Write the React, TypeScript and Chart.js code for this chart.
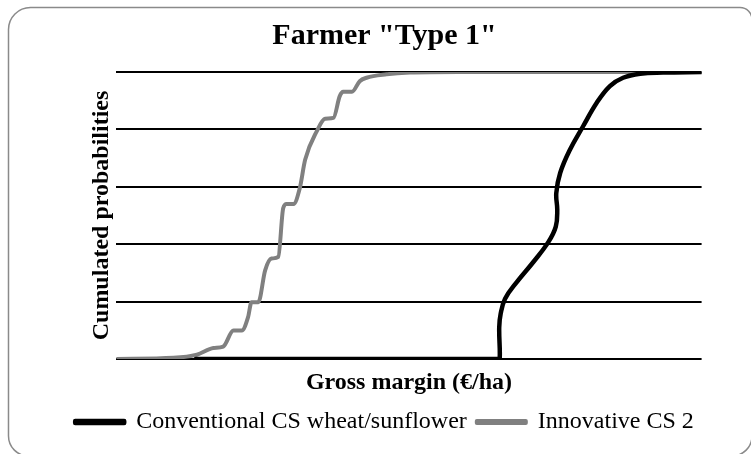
import React, { useEffect, useRef } from "react";
import { Chart, registerables } from "chart.js";

Chart.register(...registerables);

const chartTitle = 'Farmer "Type 1"';
const xAxisTitle = "Gross margin (€/ha)";
const yAxisTitle = "Cumulated probabilities";

const seriesNames = ["Conventional CS wheat/sunflower", "Innovative CS 2"];

// Conventional CS wheat/sunflower: gross margin (€/ha) and cumulated probability
const conventionalX = [163, 782, 786, 785, 788, 797, 821, 855, 886, 901, 904, 902, 910, 930, 957, 985, 1012, 1039, 1074, 1121, 1200];
const conventionalP = [0, 0, 0, 0.11, 0.158, 0.21, 0.268, 0.338, 0.408, 0.461, 0.519, 0.578, 0.648, 0.729, 0.811, 0.893, 0.951, 0.98, 0.994, 0.998, 1];

// Innovative CS 2
const innovativeX = [0, 117, 165, 199, 219, 240, 257, 270, 277, 291, 305, 318, 332, 342, 349, 363, 376, 387, 411, 428, 445, 458, 465, 483, 499, 513, 554, 602, 700, 1200];
const innovativeP = [0, 0.004, 0.015, 0.038, 0.043, 0.099, 0.099, 0.146, 0.198, 0.198, 0.309, 0.35, 0.356, 0.525, 0.54, 0.54, 0.595, 0.694, 0.794, 0.837, 0.84, 0.916, 0.931, 0.931, 0.968, 0.98, 0.992, 0.998, 1, 1];

const xMin = 0;
const xMax = 1200;
const yTicks = [0, 0.2, 0.4, 0.6, 0.8, 1];

const FONT = "'Liberation Serif', 'Times New Roman', serif";

const frame = {
  id: "frame",
  beforeDraw(chart: any) {
    const ctx = chart.ctx;
    const x0 = 8.5, y0 = 7.5, x1 = 752, y1 = 456;
    const tl = 22, tr = 12, br = 20, bl = 20;
    ctx.save();
    ctx.fillStyle = "#ffffff";
    ctx.fillRect(0, 0, chart.width, chart.height);
    ctx.beginPath();
    ctx.moveTo(x0 + tl, y0);
    ctx.lineTo(x1 - tr, y0);
    ctx.arcTo(x1, y0, x1, y0 + tr, tr);
    ctx.lineTo(x1, y1 - br);
    ctx.arcTo(x1, y1, x1 - br, y1, br);
    ctx.lineTo(x0 + bl, y1);
    ctx.arcTo(x0, y1, x0, y1 - bl, bl);
    ctx.lineTo(x0, y0 + tl);
    ctx.arcTo(x0, y0, x0 + tl, y0, tl);
    ctx.closePath();
    ctx.strokeStyle = "#8a8a8a";
    ctx.lineWidth = 1.5;
    ctx.stroke();
    ctx.restore();
  },
};

export default function App() {
  const ref = useRef<HTMLCanvasElement | null>(null);

  useEffect(() => {
    if (!ref.current) return;
    const toPts = (xs: number[], ps: number[]) => xs.map((x, i) => ({ x, y: ps[i] }));
    const chart = new Chart(ref.current, {
      type: "line",
      data: {
        datasets: [
          {
            label: seriesNames[0],
            data: toPts(conventionalX, conventionalP),
            borderColor: "#000000",
            backgroundColor: "#000000",
            borderWidth: 4.5,
            pointRadius: 0,
            tension: 0.4,
            borderCapStyle: "round",
            borderJoinStyle: "round",
          },
          {
            label: seriesNames[1],
            data: toPts(innovativeX, innovativeP),
            borderColor: "#808080",
            backgroundColor: "#808080",
            borderWidth: 4,
            pointRadius: 0,
            cubicInterpolationMode: "monotone",
            borderCapStyle: "round",
            borderJoinStyle: "round",
          },
        ],
      },
      options: {
        animation: false,
        responsive: true,
        maintainAspectRatio: false,
        layout: { padding: { left: 18, right: 0, top: 0, bottom: 10 } },
        plugins: {
          tooltip: { enabled: false },
          title: {
            display: true,
            text: chartTitle,
            color: "#000",
            font: { family: FONT, size: 30, weight: "bold", lineHeight: 1.2 },
            padding: { top: 18.6, bottom: 17.4 },
          },
          legend: {
            display: true,
            position: "bottom",
            labels: {
              color: "#000",
              font: { family: FONT, size: 24, lineHeight: 1.2 },
              boxWidth: 49,
              boxHeight: 2,
              padding: 10,
            },
          },
        },
        scales: {
          x: {
            type: "linear",
            min: xMin,
            max: xMax,
            grid: { display: false, drawTicks: false },
            border: { display: false },
            ticks: { display: false },
            title: {
              display: true,
              text: xAxisTitle,
              color: "#000",
              font: { family: FONT, size: 24, weight: "bold", lineHeight: 1.2 },
              padding: { top: 9.2, bottom: 3.0 },
            },
          },
          y: {
            type: "linear",
            min: yTicks[0],
            max: yTicks[yTicks.length - 1],
            afterBuildTicks: (s: any) => {
              s.ticks = yTicks.map((v) => ({ value: v }));
            },
            afterFit: (s: any) => {
              s.width = 98.4;
            },
            grid: { display: true, drawTicks: false, color: "#000", lineWidth: 2 },
            border: { display: false },
            ticks: { display: false },
            title: {
              display: true,
              text: yAxisTitle,
              color: "#000",
              font: { family: FONT, size: 24, weight: "bold", lineHeight: 1.2 },
              padding: { top: 69.4, bottom: 0 },
            },
          },
          y2: {
            type: "linear",
            position: "right",
            display: true,
            grid: { display: false, drawTicks: false },
            border: { display: false },
            ticks: { display: false },
            afterFit: (s: any) => {
              s.width = 49.4;
            },
          },
        },
      },
      plugins: [frame],
    } as any);
    return () => chart.destroy();
  }, []);

  return (
    <div style={{ position: "fixed", left: 0, top: 0, width: 751, height: 454 }}>
      <canvas ref={ref} />
    </div>
  );
}
